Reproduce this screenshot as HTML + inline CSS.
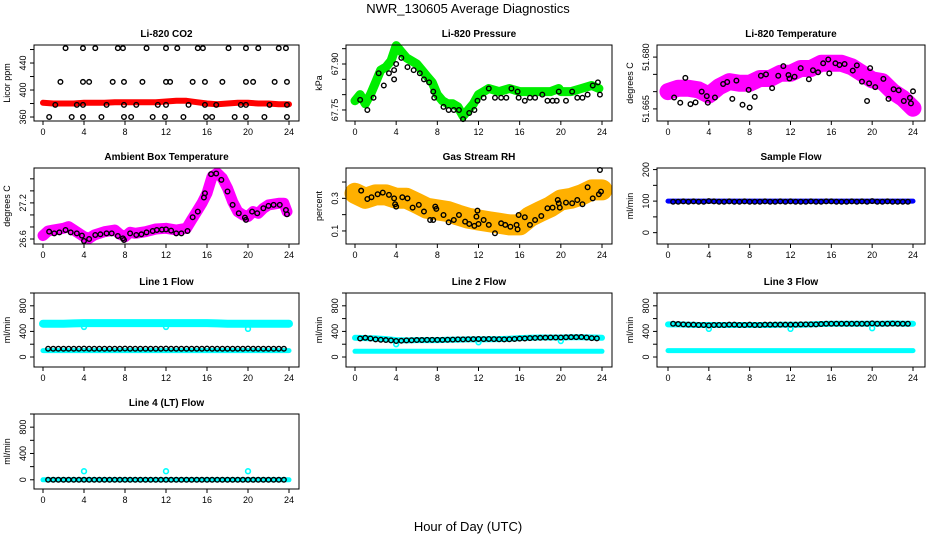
<!DOCTYPE html>
<html><head><meta charset="utf-8"><title>NWR_130605 Average Diagnostics</title>
<style>
html,body{margin:0;padding:0;background:#fff;}
svg{display:block;font-family:"Liberation Sans",Arial,sans-serif;}
.t{font-size:10px;font-weight:bold;}
.tk{font-size:9px;}
</style></head>
<body>
<svg id="chart" width="936" height="540" viewBox="0 0 936 540" xmlns="http://www.w3.org/2000/svg">
<text x="468" y="13" text-anchor="middle" font-size="13">NWR_130605  Average Diagnostics</text>
<text x="468" y="531" text-anchor="middle" font-size="13">Hour of Day (UTC)</text>
</svg>
<script>
// ---- data ----
const hourTicks = [0,4,8,12,16,20,24];
const bandHours = [0,1,2,3,4,5,6,7,8,9,10,11,12,13,14,15,16,17,18,19,20,21,22,23,24];
const halfHours = [0.5,1,1.5,2,2.5,3,3.5,4,4.5,5,5.5,6,6.5,7,7.5,8,8.5,9,9.5,10,10.5,11,11.5,12,12.5,13,13.5,14,14.5,15,15.5,16,16.5,17,17.5,18,18.5,19,19.5,20,20.5,21,21.5,22,22.5,23,23.5];

// CO2
const co2BandValues = [381,380,380,380,381,381,381,382,382,382,382,382,383,384,384,382,380,379,380,381,381,380,380,379,379];
const co2Hours = [2.2,3.9,5.1,7.3,7.8,10.1,12.0,13.1,15.1,15.6,18.1,19.8,21.0,23.0,23.7,
  1.7,3.9,4.5,6.8,7.9,9.7,12.0,12.4,14.6,15.8,17.5,19.8,20.5,22.6,23.8,
  1.2,3.3,3.9,6.2,7.9,9.1,11.2,12.0,14.2,15.8,16.9,19.3,19.8,22.1,23.8,
  0.6,2.8,3.9,5.7,7.9,8.6,10.7,11.9,13.7,15.9,16.5,18.7,19.8,21.6,23.8];
const co2Values = [462,462,462,462,462,462,462,462,462,462,462,462,462,462,462,
  412,412,412,412,412,412,412,412,412,412,412,412,412,412,412,
  378,378,378,378,378,378,378,378,378,378,378,378,378,378,378,
  360,360,360,360,360,360,360,360,360,360,360,360,360,360,360];
const co2Ticks = [360,380,400,420,440,460];
const co2Labels = ["360","","400","","440",""];

// Pressure
const presBandHours = [0,0.5,1,1.5,2,2.5,3,3.5,4,4.5,5,5.5,6,6.5,7,7.5,8,8.5,9,9.5,10,10.5,11,11.5,12,12.5,13,14,15,16,17,18,19,19.8,20,21,22,23,23.7];
const presBandValues = [67.78,67.80,67.77,67.80,67.84,67.88,67.89,67.91,67.96,67.94,67.92,67.91,67.90,67.88,67.86,67.84,67.80,67.78,67.77,67.77,67.76,67.73,67.75,67.77,67.80,67.81,67.82,67.81,67.82,67.81,67.81,67.81,67.81,67.82,67.81,67.81,67.82,67.83,67.82];
const presHours = [0.5,1.2,1.8,2.3,2.8,3.3,3.8,3.8,4.0,4.5,5.1,5.7,6.3,6.7,7.2,7.6,7.7,8.6,9.1,9.6,10.1,10.5,11.1,11.6,11.9,12.5,13.0,13.6,14.2,14.7,15.2,15.8,15.9,16.5,17.0,17.5,18.2,18.7,19.2,19.6,19.8,20.5,21.1,21.6,22.1,22.6,23.1,23.6,23.8];
const presValues = [67.783,67.75,67.79,67.87,67.83,67.87,67.85,67.88,67.90,67.92,67.89,67.88,67.87,67.85,67.84,67.81,67.79,67.76,67.75,67.75,67.75,67.72,67.74,67.75,67.78,67.79,67.82,67.79,67.79,67.79,67.82,67.81,67.79,67.78,67.79,67.79,67.80,67.78,67.78,67.78,67.81,67.78,67.81,67.79,67.79,67.80,67.83,67.84,67.80];
const presTicks = [67.75,67.80,67.85,67.90,67.95];
const presLabels = ["67.75","","","67.90",""];

// Li-820 temperature
const tempBandValues = [51.6700,51.6710,51.6710,51.6705,51.6690,51.6714,51.6729,51.6724,51.6724,51.6738,51.6738,51.6753,51.6753,51.6767,51.6767,51.6782,51.6782,51.6782,51.6772,51.6753,51.6734,51.6729,51.6700,51.6681,51.6652];
const tempHours = [0.6,1.2,1.7,2.2,2.7,3.3,3.8,3.9,4.6,5.4,5.8,6.3,6.7,7.3,7.9,8.0,8.5,9.1,9.6,10.2,10.8,11.3,11.8,11.9,12.4,13.0,13.8,14.2,14.7,15.2,15.7,15.8,16.4,16.8,17.3,18.1,18.5,19.0,19.5,19.7,19.8,20.3,21.1,21.6,22.1,22.6,23.1,23.7,23.8,24.0];
const tempValues = [51.6683,51.6668,51.6740,51.6664,51.6669,51.6700,51.6687,51.6668,51.6683,51.6722,51.6728,51.6679,51.6732,51.6662,51.6705,51.6654,51.6685,51.6746,51.6750,51.6710,51.6746,51.6774,51.6748,51.6738,51.6743,51.6768,51.6736,51.6762,51.6756,51.6782,51.6793,51.6753,51.6782,51.6777,51.6780,51.6761,51.6776,51.6729,51.6673,51.6724,51.6768,51.6713,51.6737,51.6679,51.6707,51.6704,51.6673,51.6682,51.6666,51.6701];
const tempTicks = [51.665,51.670,51.675,51.680];
const tempLabels = ["51.665","","","51.680"];

// Ambient box temperature
const ambBandHours = [0,0.5,1,2,2.5,3,4,4.5,5,6,7,7.5,8,8.5,9,10,11,12,13,14,14.5,15,15.5,16,16.5,17,17.5,18,18.5,19,19.5,20,20.5,21,21.5,22,23,23.5,23.8];
const ambBandValues = [26.656,26.733,26.75,26.778,26.806,26.75,26.639,26.611,26.667,26.722,26.75,26.678,26.639,26.711,26.694,26.722,26.767,26.778,26.75,26.778,26.917,27.056,27.194,27.361,27.639,27.694,27.611,27.444,27.222,27.056,27.0,26.972,27.056,27.028,27.111,27.167,27.194,27.194,27.056];
const ambHours = [0.6,1.1,1.6,2.2,2.7,3.3,3.8,4.0,4.5,5.1,5.6,6.2,6.7,7.3,7.8,7.9,8.5,9.1,9.6,10.1,10.7,11.1,11.6,12.0,12.5,13.0,13.5,14.1,14.6,15.1,15.7,15.8,16.4,16.9,17.4,18.0,18.5,19.1,19.7,19.8,20.4,20.9,21.5,22.0,22.5,23.1,23.7,23.8];
const ambValues = [26.722,26.694,26.711,26.75,26.711,26.694,26.656,26.567,26.6,26.667,26.678,26.694,26.694,26.65,26.611,26.583,26.694,26.667,26.678,26.711,26.733,26.75,26.756,26.761,26.739,26.694,26.694,26.733,26.961,27.056,27.289,27.361,27.678,27.689,27.583,27.389,27.167,27.028,26.956,26.917,27.056,27.028,27.111,27.15,27.167,27.167,27.083,27.011];
const ambTicks = [26.6,26.8,27.0,27.2,27.4,27.6];
const ambLabels = ["26.6","","","27.2","",""];

// Gas stream RH
const rhBandValues = [0.331,0.300,0.321,0.321,0.300,0.300,0.270,0.239,0.229,0.219,0.198,0.178,0.167,0.157,0.147,0.137,0.137,0.188,0.219,0.249,0.290,0.300,0.321,0.352,0.352];
const rhHours = [0.6,1.2,1.6,2.2,2.7,3.3,3.8,3.9,4.0,4.6,5.1,5.6,6.2,6.7,7.3,7.8,7.9,7.6,8.6,9.1,9.6,10.1,10.7,11.1,11.6,11.8,11.9,12.0,12.5,13.0,13.6,14.2,14.6,15.1,15.7,15.8,15.9,16.5,17.0,17.5,18.1,18.7,19.2,19.7,19.8,19.9,20.5,21.1,21.6,22.1,22.6,23.1,23.7,23.8,23.9];
const rhValues = [0.347,0.296,0.307,0.325,0.335,0.321,0.300,0.264,0.249,0.307,0.300,0.243,0.260,0.219,0.167,0.249,0.235,0.167,0.198,0.153,0.167,0.198,0.157,0.143,0.131,0.188,0.225,0.143,0.167,0.137,0.086,0.147,0.137,0.126,0.137,0.110,0.198,0.184,0.137,0.167,0.192,0.239,0.243,0.290,0.270,0.243,0.274,0.270,0.290,0.264,0.368,0.300,0.325,0.474,0.341];
const rhTicks = [0.1,0.2,0.3,0.4];
const rhLabels = ["0.1","","0.3",""];

// Sample flow
const sampleBandValues = [100,100,100,100,100,100,100,100,100,100,100,100,100,100,100,100,100,100,100,100,100,100,100,100,100];
const sampleValues = [98,98,99,98,99,98,98,100,99,98,98,99,98,98,99,98,98,98,99,98,98,99,98,99,98,98,98,99,98,98,99,99,98,98,98,99,98,99,98,100,98,98,99,98,98,98,98];
const sampleTicks = [0,50,100,150,200];
const sampleLabels = ["0","","100","","200"];

// Flow lines
const flowTicks = [0,200,400,600,800,1000];
const flowLabels = ["0","","400","","800",""];
const line1Upper = [520,520,520,525,530,530,530,530,530,530,530,530,530,530,530,530,530,525,520,520,520,520,520,520,520];
const line1Lower = [100,100,100,100,100,100,100,100,100,100,100,100,100,100,100,100,100,100,100,100,100,100,100,100,100];
const line1Black = [130,130,130,130,130,130,130,132,130,130,130,130,130,130,130,132,130,130,130,130,130,130,130,132,130,130,130,130,130,130,130,132,130,130,130,130,130,130,130,132,130,130,130,130,130,130,130];
const line2Upper = [300,295,290,280,265,260,265,265,265,270,272,275,275,278,280,285,295,300,305,305,305,310,310,305,300];
const line2Lower = [90,90,90,90,90,90,90,90,90,90,90,90,90,90,90,90,90,90,90,90,90,90,90,90,90];
const line2Black = [290,300,290,275,270,265,260,250,255,260,262,265,265,268,268,268,268,270,272,275,275,278,280,282,280,282,280,278,275,278,282,288,290,295,298,300,302,305,305,305,308,310,310,312,305,295,292];
const line3Upper = [510,510,505,500,500,500,500,500,500,500,500,505,505,505,510,515,520,520,520,520,520,520,525,520,520];
const line3Lower = [100,100,100,100,100,100,100,100,100,100,100,100,100,100,100,100,100,100,100,100,100,100,100,100,100];
const line3Black = [520,515,510,505,505,500,500,495,500,500,500,505,505,500,500,505,500,500,505,505,505,505,505,505,505,510,510,510,510,515,520,520,520,520,520,520,520,520,520,525,520,520,520,522,520,520,520];
const line4Band = [0,0,0,0,0,0,0,0,0,0,0,0,0,0,0,0,0,0,0,0,0,0,0,0,0];
const line4Black = [0,0,0,0,0,0,0,0,0,0,0,0,0,0,0,0,0,0,0,0,0,0,0,0,0,0,0,0,0,0,0,0,0,0,0,0,0,0,0,0,0,0,0,0,0,0,0];
const cyanSpikeHours = [4,12,20];
const line1Spikes = [470,470,440];
const line2Spikes = [200,230,250];
const line3Spikes = [440,440,450];
const line4Spikes = [130,130,130];

// ---- layout ----
const NS = "http://www.w3.org/2000/svg";
const svg = document.getElementById("chart");
const COLS = [{x0:34,x1:299,h0:43,h1:289},{x0:346,x1:612,h0:355,h1:602},{x0:657,x1:925,h0:668,h1:913}];
const ROWS = [{y0:45,y1:121},{y0:168,y1:244},{y0:293,y1:367},{y0:414,y1:489}];

function mk(tag, attrs, parent){
  const e = document.createElementNS(NS, tag);
  for (const k in attrs) e.setAttribute(k, attrs[k]);
  (parent||svg).appendChild(e);
  return e;
}

function panel(p){
  const c = COLS[p.col], r = ROWS[p.row];
  const g = mk("g", {});
  
  
  const xs = h => c.h0 + (c.h1 - c.h0) * h / 24;
  const ys = v => r.y1 - (v - p.ymin) / (p.ymax - p.ymin) * (r.y1 - r.y0);
  // title
  const t = mk("text", {x:(c.x0+c.x1)/2, y:r.y0-8, "text-anchor":"middle", class:"t"}, g);
  t.textContent = p.title;
  
  
  // bands
  (p.bands||[]).forEach(b => {
    const pts = b.hours.map((h,i) => xs(h).toFixed(1)+","+ys(b.values[i]).toFixed(1)).join(" ");
    const pl = mk("polyline", {points:pts, fill:"none", stroke:b.color, "stroke-width":b.width, "stroke-linejoin":"round", "stroke-linecap":"round"}, g);
    
    
  });
  // colored extra points
  (p.cpts||[]).forEach(s => {
    s.hours.forEach((h,i) => {
      const ci = mk("circle", {cx:xs(h), cy:ys(s.values[i]), r:2.4, fill:"none", stroke:s.color, "stroke-width":1.6}, g);
      
      
    });
  });
  // black points
  (p.pts||[]).forEach(s => {
    s.hours.forEach((h,i) => {
      const ci = mk("circle", {cx:xs(h), cy:ys(s.values[i]), r:2.3, fill:"none", stroke:"#000", "stroke-width":1.4}, g);
      
      
    });
  });
  // box
  const bx = mk("rect", {x:c.x0, y:r.y0, width:c.x1-c.x0, height:r.y1-r.y0, fill:"none", stroke:"#000", "stroke-width":1}, g);
  
  
  // x axis
  const xa = mk("g", {}, g);
  
  
  mk("line", {x1:xs(0), x2:xs(24), y1:r.y1, y2:r.y1, stroke:"#000"}, xa);
  hourTicks.forEach(h => {
    mk("line", {x1:xs(h), x2:xs(h), y1:r.y1, y2:r.y1+4, stroke:"#000"}, xa);
    const tl = mk("text", {x:xs(h), y:r.y1+14, "text-anchor":"middle", class:"tk"}, xa);
    tl.textContent = h;
    
    
  });
  // y axis
  const ya = mk("g", {}, g);
  
  
  mk("line", {x1:c.x0, x2:c.x0, y1:ys(p.ticks[0]), y2:ys(p.ticks[p.ticks.length-1]), stroke:"#000"}, ya);
  p.ticks.forEach((v,i) => {
    const y = ys(v);
    mk("line", {x1:c.x0-4, x2:c.x0, y1:y, y2:y, stroke:"#000"}, ya);
    if (p.labels[i]) {
      const tl = mk("text", {x:c.x0-8, y:y, "text-anchor":"middle", class:"tk", transform:"rotate(-90 "+(c.x0-8)+" "+y+")"}, ya);
      tl.textContent = p.labels[i];
      
      
    }
  });
  const yl = mk("text", {x:c.x0-24, y:(r.y0+r.y1)/2, "text-anchor":"middle", class:"tk", transform:"rotate(-90 "+(c.x0-24)+" "+((r.y0+r.y1)/2)+")"}, ya);
  yl.textContent = p.ylab;
  
  
}

panel({name:"co2-panel", title:"Li-820 CO2", col:0, row:0, ymin:354.1, ymax:466.7, ticks:co2Ticks, labels:co2Labels, ylab:"Licor ppm",
  bands:[{hours:bandHours, values:co2BandValues, color:"#ff0000", width:6}],
  pts:[{hours:co2Hours, values:co2Values}]});
panel({name:"pressure-panel", title:"Li-820 Pressure", col:1, row:0, ymin:67.714, ymax:67.962, ticks:presTicks, labels:presLabels, ylab:"kPa",
  bands:[{hours:presBandHours, values:presBandValues, color:"#00ee00", width:9}],
  pts:[{hours:presHours, values:presValues}]});
panel({name:"temperature-panel", title:"Li-820 Temperature", col:2, row:0, ymin:51.6615, ymax:51.6835, ticks:tempTicks, labels:tempLabels, ylab:"degrees C",
  bands:[{hours:bandHours, values:tempBandValues, color:"#ff00ff", width:17}],
  pts:[{hours:tempHours, values:tempValues}]});
panel({name:"ambient-temperature-panel", title:"Ambient Box Temperature", col:0, row:1, ymin:26.517, ymax:27.78, ticks:ambTicks, labels:ambLabels, ylab:"degrees C",
  bands:[{hours:ambBandHours, values:ambBandValues, color:"#ff00ff", width:11}],
  pts:[{hours:ambHours, values:ambValues}]});
panel({name:"rh-panel", title:"Gas Stream RH", col:1, row:1, ymin:0.02, ymax:0.486, ticks:rhTicks, labels:rhLabels, ylab:"percent",
  bands:[{hours:bandHours, values:rhBandValues, color:"#ffb000", width:21}],
  pts:[{hours:rhHours, values:rhValues}]});
panel({name:"sample-flow-panel", title:"Sample Flow", col:2, row:1, ymin:-36, ymax:205, ticks:sampleTicks, labels:sampleLabels, ylab:"ml/min",
  bands:[{hours:bandHours, values:sampleBandValues, color:"#0000ff", width:5}],
  pts:[{hours:halfHours, values:sampleValues}]});
panel({name:"line1-flow-panel", title:"Line 1 Flow", col:0, row:2, ymin:-156, ymax:1000, ticks:flowTicks, labels:flowLabels, ylab:"ml/min",
  bands:[{hours:bandHours, values:line1Upper, color:"#00ffff", width:8},{hours:bandHours, values:line1Lower, color:"#00ffff", width:5}],
  cpts:[{hours:cyanSpikeHours, values:line1Spikes, color:"#00ffff"}],
  pts:[{hours:halfHours, values:line1Black}]});
panel({name:"line2-flow-panel", title:"Line 2 Flow", col:1, row:2, ymin:-156, ymax:1000, ticks:flowTicks, labels:flowLabels, ylab:"ml/min",
  bands:[{hours:bandHours, values:line2Upper, color:"#00ffff", width:6},{hours:bandHours, values:line2Lower, color:"#00ffff", width:5}],
  cpts:[{hours:cyanSpikeHours, values:line2Spikes, color:"#00ffff"}],
  pts:[{hours:halfHours, values:line2Black}]});
panel({name:"line3-flow-panel", title:"Line 3 Flow", col:2, row:2, ymin:-156, ymax:1000, ticks:flowTicks, labels:flowLabels, ylab:"ml/min",
  bands:[{hours:bandHours, values:line3Upper, color:"#00ffff", width:6},{hours:bandHours, values:line3Lower, color:"#00ffff", width:5}],
  cpts:[{hours:cyanSpikeHours, values:line3Spikes, color:"#00ffff"}],
  pts:[{hours:halfHours, values:line3Black}]});
panel({name:"line4-flow-panel", title:"Line 4 (LT) Flow", col:0, row:3, ymin:-140, ymax:1000, ticks:flowTicks, labels:flowLabels, ylab:"ml/min",
  bands:[{hours:bandHours, values:line4Band, color:"#00ffff", width:5}],
  cpts:[{hours:cyanSpikeHours, values:line4Spikes, color:"#00ffff"}],
  pts:[{hours:halfHours, values:line4Black}]});
</script>
</body></html>
